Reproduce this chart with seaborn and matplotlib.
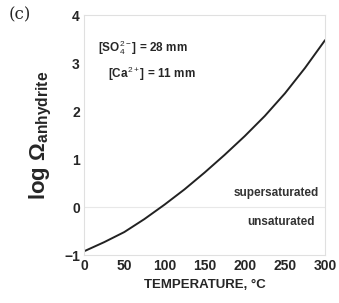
import numpy as np
import matplotlib
matplotlib.use('Agg')
import matplotlib.pyplot as plt
import pandas as pd
import seaborn as sns

# values
temperature = [0, 25, 50, 75, 100, 125, 150, 175, 200, 225, 250, 275, 300]
log_omega = [-0.92, -0.73, -0.52, -0.25, 0.05, 0.37, 0.72, 1.09, 1.48, 1.9, 2.37, 2.9, 3.48]
x_ticks = [0, 50, 100, 150, 200, 250, 300]
y_ticks = [-1, 0, 1, 2, 3, 4]

sns.set_style('white')
plt.rcParams['font.family'] = ['Liberation Sans', 'DejaVu Sans']
plt.rcParams['mathtext.fontset'] = 'custom'
plt.rcParams['mathtext.rm'] = 'Liberation Sans'
plt.rcParams['mathtext.bf'] = 'Liberation Sans:bold'

df = pd.DataFrame({'T': temperature, 'logO': log_omega})

fig = plt.figure(figsize=(3.39, 3.03), dpi=100)
ax = fig.add_axes([0.248, 0.158, 0.711, 0.792])

ax.axhline(0, color='#e8e8e8', lw=0.8, zorder=0)
sns.lineplot(data=df, x='T', y='logO', ax=ax, color='#222222', lw=1.4)

ax.set_xlim(0, 300)
ax.set_ylim(-1, 4)
ax.set_xticks(x_ticks)
ax.set_yticks(y_ticks)
ax.tick_params(length=0, labelsize=10, pad=3)
for lab in ax.get_xticklabels() + ax.get_yticklabels():
    lab.set_fontweight('bold')

for s in ax.spines.values():
    s.set_color('#e0e0e0')
    s.set_linewidth(0.8)

ax.set_xlabel('TEMPERATURE, °C', fontsize=9.5, fontweight='bold', labelpad=4)
ax.set_ylabel(r'log $\mathbf{\Omega}_{\mathbf{anhydrite}}$', fontsize=16,
              fontweight='bold', labelpad=7)

ax.text(17, 3.33, r'[SO$_4^{2-}$] = 28 mm', fontsize=8.5, fontweight='bold', va='center')
ax.text(30, 2.78, r'[Ca$^{2+}$] = 11 mm', fontsize=8.5, fontweight='bold', va='center')
ax.text(292, 0.29, 'supersaturated', fontsize=8.5, fontweight='bold', ha='right',
        va='center', color='#333333')
ax.text(287, -0.31, 'unsaturated', fontsize=8.5, fontweight='bold', ha='right',
        va='center', color='#333333')

fig.text(0.025, 0.95, '(c)', fontsize=12, family='DejaVu Serif', va='center')

fig.savefig('out.png', dpi=100)
